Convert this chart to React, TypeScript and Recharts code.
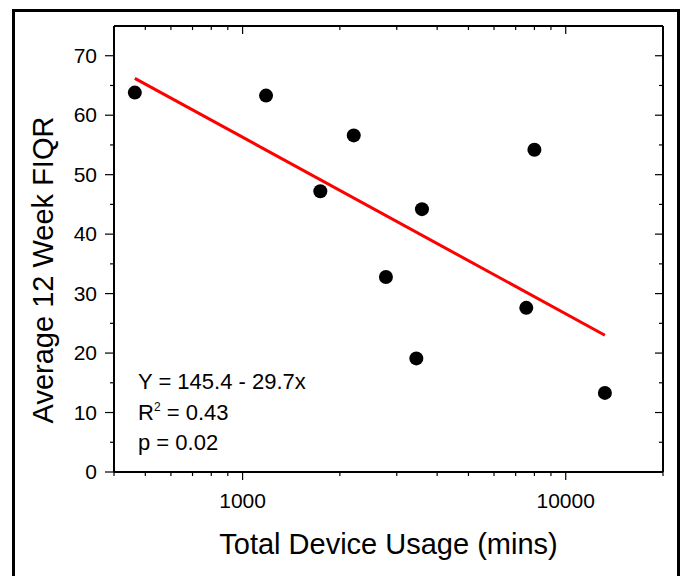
import { ScatterChart, Scatter, XAxis, YAxis } from "recharts";

// device usage (mins) vs average 12 week FIQR
const usageMins = [464, 1182, 2208, 1740, 3590, 2777, 3449, 8000, 7550, 13220];
const fiqrScores = [63.8, 63.3, 56.6, 47.2, 44.2, 32.8, 19.1, 54.2, 27.6, 13.3];

// end points of the fitted line
const fitMins = [464, 13220];
const fitScores = [66.2, 23.0];

const xTicks = [
  400, 500, 600, 700, 800, 900, 1000, 2000, 3000, 4000, 5000, 6000, 7000,
  8000, 9000, 10000, 20000,
];
const xLabelled = [1000, 10000];
const yTicks = [0, 5, 10, 15, 20, 25, 30, 35, 40, 45, 50, 55, 60, 65, 70];

const FONT = "'Liberation Sans', Arial, Helvetica, sans-serif";

const points = usageMins.map((x, i) => ({ x, y: fiqrScores[i] }));
const fitLine = fitMins.map((x, i) => ({ x, y: fitScores[i] }));

function BottomTick(props: any) {
  const { x, y, payload } = props;
  const major = xLabelled.includes(payload.value);
  return (
    <g>
      <line x1={x} y1={y} x2={x} y2={y + (major ? 8 : 4)} stroke="#000" strokeWidth={1.2} />
      {major && (
        <text x={x} y={y + 36} textAnchor="middle" fontSize={21} fontFamily={FONT} fill="#000">
          {payload.value}
        </text>
      )}
    </g>
  );
}

function TopTick(props: any) {
  const { x, y, payload } = props;
  const major = xLabelled.includes(payload.value);
  return <line x1={x} y1={y} x2={x} y2={y + (major ? 8 : 4)} stroke="#000" strokeWidth={1.2} />;
}

function LeftTick(props: any) {
  const { x, y, payload } = props;
  const major = payload.value % 10 === 0;
  return (
    <g>
      <line x1={x} y1={y} x2={x - (major ? 9 : 4)} y2={y} stroke="#000" strokeWidth={1.2} />
      {major && (
        <text x={x - 17} y={y + 7} textAnchor="end" fontSize={21} fontFamily={FONT} fill="#000">
          {payload.value}
        </text>
      )}
    </g>
  );
}

function RightTick(props: any) {
  const { x, y, payload } = props;
  const major = payload.value % 10 === 0;
  return <line x1={x} y1={y} x2={x - (major ? 8 : 4)} y2={y} stroke="#000" strokeWidth={1.2} />;
}

const Dot = (props: any) => <circle cx={props.cx} cy={props.cy} r={7} fill="#000" />;
const NoDot = () => <g />;

export default function App() {
  return (
    <div style={{ position: "absolute", left: 0, top: 0, width: 682, height: 576, background: "#fff", overflow: "hidden" }}>
      <div
        style={{
          position: "absolute",
          left: 12,
          top: 9,
          width: 662,
          height: 570,
          border: "3px solid #000",
          borderBottom: "none",
        }}
      />
      <div style={{ position: "absolute", left: 0, top: 0 }}>
        <ScatterChart width={682} height={576} margin={{ top: 0, right: 0, bottom: 0, left: 0 }}>
          <XAxis
            dataKey="x"
            type="number"
            scale="log"
            domain={[400, 20000]}
            allowDataOverflow
            ticks={xTicks}
            interval={0}
            height={104}
            tickSize={0}
            tickMargin={0}
            tickLine={false}
            axisLine={{ stroke: "#000", strokeWidth: 2 }}
            tick={<BottomTick />}
            label={{
              content: (p: any) => (
                <text
                  x={p.viewBox.x + p.viewBox.width / 2}
                  y={p.viewBox.y + 82}
                  textAnchor="middle"
                  fontSize={29}
                  fontFamily={FONT}
                  fill="#000"
                >
                  Total Device Usage (mins)
                </text>
              ),
            }}
          />
          <XAxis
            xAxisId="t"
            orientation="top"
            dataKey="x"
            type="number"
            scale="log"
            domain={[400, 20000]}
            allowDataOverflow
            ticks={xTicks}
            interval={0}
            height={26}
            tickSize={0}
            tickMargin={0}
            tickLine={false}
            axisLine={{ stroke: "#000", strokeWidth: 2 }}
            tick={<TopTick />}
          />
          <YAxis
            dataKey="y"
            type="number"
            domain={[0, 75]}
            allowDataOverflow
            ticks={yTicks}
            interval={0}
            width={114}
            tickSize={0}
            tickMargin={0}
            tickLine={false}
            axisLine={{ stroke: "#000", strokeWidth: 2 }}
            tick={<LeftTick />}
            label={{
              content: (p: any) => {
                const cx = 53;
                const cy = p.viewBox.y + p.viewBox.height / 2 + 21;
                return (
                  <text
                    x={cx}
                    y={cy}
                    transform={`rotate(-90 ${cx} ${cy})`}
                    textAnchor="middle"
                    fontSize={29}
                    fontFamily={FONT}
                    fill="#000"
                  >
                    Average 12 Week FIQR
                  </text>
                );
              },
            }}
          />
          <YAxis
            yAxisId="r"
            orientation="right"
            dataKey="y"
            type="number"
            domain={[0, 75]}
            allowDataOverflow
            ticks={yTicks}
            interval={0}
            width={19}
            tickSize={0}
            tickMargin={0}
            tickLine={false}
            axisLine={{ stroke: "#000", strokeWidth: 2 }}
            tick={<RightTick />}
          />
          <Scatter data={points} shape={<Dot />} isAnimationActive={false} />
          <Scatter
            data={fitLine}
            xAxisId="t"
            yAxisId="r"
            line={{ stroke: "#ff0000", strokeWidth: 3 }}
            shape={<NoDot />}
            isAnimationActive={false}
          />
        </ScatterChart>
      </div>
      <svg width={682} height={576} style={{ position: "absolute", left: 0, top: 0, pointerEvents: "none" }}>
        <g fontFamily={FONT} fontSize={22} fill="#000">
          <text x={138} y={389}>Y = 145.4 - 29.7x</text>
          <text x={138} y={420}>
            R
            <tspan dy={-9} fontSize={12}>2</tspan>
            <tspan dy={9}> = 0.43</tspan>
          </text>
          <text x={138} y={450}>p = 0.02</text>
        </g>
      </svg>
    </div>
  );
}
